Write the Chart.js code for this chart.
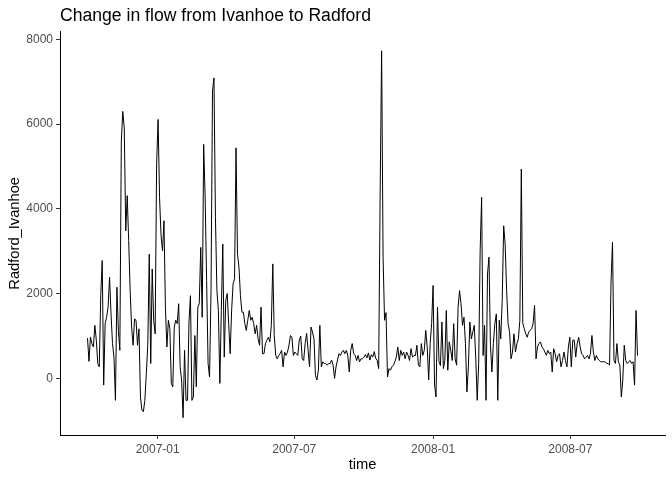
<!DOCTYPE html>
<html>
<head>
<meta charset="utf-8">
<title>Change in flow from Ivanhoe to Radford</title>
<script src="https://cdn.jsdelivr.net/npm/chart.js@4.4.0/dist/chart.umd.min.js"></script>
<style>
  body { margin: 0; background: #fff; }
  #wrap { width: 672px; height: 480px; }
</style>
</head>
<body>
<div id="wrap"><canvas id="flowChart" width="672" height="480"></canvas></div>
<script>
// first and last day of the series, the readings are spread evenly between them
const firstDay = '2006-09-30';
const lastDay = '2008-09-28';

const radfordIvanhoe = [
  950, 400, 975, 820, 740, 1250, 900, 345, 270, 1950,
  2780, -160, 1290, 1440, 1680, 2385, 1520, 820, 500, -520,
  2150, 1130, 660, 5600, 6300, 5910, 3480, 4310, 3250, 2070,
  1210, 780, 1400, 1370, 780, 1170, -440, -750, -790, -520,
  110, 780, 2930, 350, 2580, 1370, 1050, 5050, 6110, 4270,
  3370, 3010, 3720, 1640, 740, 1370, 1170, -120, -200, 1210,
  1370, 1290, 1760, 270, -40, -930, 660, -520, -520, 1330,
  1950, -520, -440, 1010, -200, 1680, 1760, 3090, 1440, 5520,
  4270, 2310, 350, 30, 2070, 6780, 7090, 3800, 2070, 1600,
  -120, 1600, 3170, 500, 1840, 2000, 1290, 580, 1600, 2230,
  2350, 5440, 2930, 2620, 1950, 1560, 1560, 1290, 1130, 1370,
  1600, 1370, 1440, 1290, 1050, 1250, 930, 780, 1680, 580,
  580, 820, 900, 970, 860, 1250, 2700, 1010, 540, 460,
  540, 580, 660, 270, 620, 540, 620, 780, 1010, 970,
  540, 620, 580, 540, 900, 1000, 460, 420, 820, 1060,
  660, 270, 1210, 1090, 930, 70, -40, 190, 1250, 270,
  390, 350, 350, 310, 350, 350, 430, 310, 0, 270,
  430, 580, 540, 620, 660, 580, 660, 540, 150, 660,
  820, 580, 540, 420, 540, 390, 460, 460, 500, 560,
  480, 600, 430, 560, 500, 630, 470, 420, 230, 4350,
  7730, 2850, 1370, 1550, 30, 230, 190, 270, 310, 390,
  500, 740, 420, 660, 540, 620, 460, 620, 540, 420,
  700, 500, 540, 540, 780, 310, 270, 820, 540, 660,
  1130, 740, -40, 820, 1290, 2190, -160, -440, 1680, 400,
  300, 1330, 230, 420, 1600, 190, 860, 660, 420, 1290,
  460, 310, 1680, 2070, 1760, 1250, 1440, 820, -320, 270,
  1330, 930, 1090, 1250, 500, -520, 350, 3010, 4270, 540,
  1250, -520, 2460, 2860, 780, 150, 820, 1290, 1520, -520,
  1370, 930, 1840, 3600, 3170, 2070, 1290, 1100, 460, 620,
  1050, 620, 820, 930, 1370, 4940, 1300, 1170, 1050, 970,
  1090, 1130, 1170, 1290, 1720, 460, 740, 820, 860, 740,
  700, 620, 540, 660, 580, 620, 150, 700, 580, 390,
  540, 580, 270, 420, 620, 420, 270, 740, 970, 270,
  900, 900, 500, 820, 970, 740, 580, 540, 460, 500,
  540, 460, 580, 1010, 620, 420, 540, 460, 420, 390,
  390, 390, 390, 350, 350, 310, 2270, 3210, 420, 350,
  820, 390, 310, -440, -40, 780, 420, 350, 390, 420,
  350, 390, -160, 1600, 540
];

const xTickDates = ['2007-01-01', '2007-07-01', '2008-01-01', '2008-07-01'];
const xTickLabels = ['2007-01', '2007-07', '2008-01', '2008-07'];
const yTicks = [0, 2000, 4000, 6000, 8000];

const origin = Date.UTC(2007, 0, 1);
function dayNum(s) {
  return (Date.parse(s + 'T00:00:00Z') - origin) / 86400000;
}

const d0 = dayNum(firstDay);
const d1 = dayNum(lastDay);
const stepDays = (d1 - d0) / (radfordIvanhoe.length - 1);
const points = radfordIvanhoe.map((v, i) => ({ x: d0 + i * stepDays, y: v }));
const xPad = (d1 - d0) * 0.05;
const xTickDays = xTickDates.map(dayNum);

Chart.defaults.font.family = "'Liberation Sans', Arial, sans-serif";
Chart.defaults.color = '#4D4D4D';

new Chart(document.getElementById('flowChart'), {
  type: 'line',
  data: {
    datasets: [{
      label: 'Radford_Ivanhoe',
      data: points,
      borderColor: '#000000',
      borderWidth: 1,
      pointRadius: 0,
      tension: 0,
      fill: false
    }]
  },
  options: {
    responsive: false,
    devicePixelRatio: 1,
    animation: false,
    layout: { padding: { left: 0, right: 7, top: 0, bottom: 0 } },
    plugins: {
      legend: { display: false },
      tooltip: { enabled: false },
      title: {
        display: true,
        text: 'Change in flow from Ivanhoe to Radford',
        align: 'start',
        fullSize: false,
        color: '#000000',
        font: { size: 17.6, weight: 'normal' },
        padding: { top: 6, bottom: 4.6 }
      }
    },
    scales: {
      x: {
        type: 'linear',
        min: d0 - xPad,
        max: d1 + xPad,
        afterBuildTicks: scale => { scale.ticks = xTickDays.map(v => ({ value: v })); },
        afterFit: scale => { scale.height = 45; },
        ticks: {
          autoSkip: false,
          maxRotation: 0,
          padding: 3,
          font: { size: 12 },
          color: '#4D4D4D',
          callback: value => xTickLabels[xTickDays.indexOf(value)]
        },
        grid: { display: true, drawOnChartArea: false, drawTicks: true, tickLength: 4, color: '#333333' },
        border: { display: true, color: '#000000', width: 1 },
        title: {
          display: true,
          text: 'time',
          color: '#000000',
          font: { size: 14.7 },
          padding: { top: 0, bottom: 6 }
        }
      },
      y: {
        type: 'linear',
        min: -1338,
        max: 8180,
        afterBuildTicks: scale => { scale.ticks = yTicks.map(v => ({ value: v })); },
        afterFit: scale => { scale.width = 60; },
        ticks: {
          padding: 3,
          font: { size: 12 },
          color: '#4D4D4D',
          callback: value => String(value)
        },
        grid: { display: true, drawOnChartArea: false, drawTicks: true, tickLength: 4, color: '#333333' },
        border: { display: true, color: '#000000', width: 1 },
        title: {
          display: true,
          text: 'Radford_Ivanhoe',
          color: '#000000',
          font: { size: 14.7 },
          padding: { top: 6, bottom: 0 }
        }
      }
    }
  }
});
</script>
</body>
</html>
